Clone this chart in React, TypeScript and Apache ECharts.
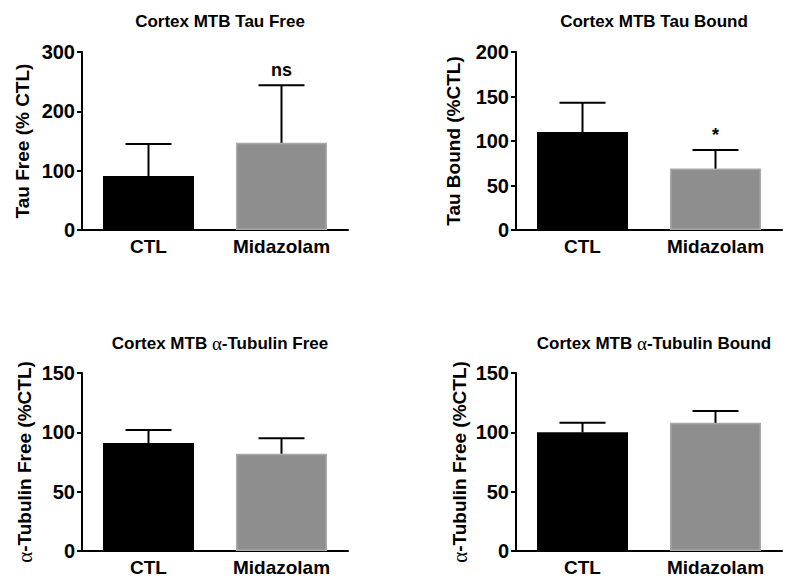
import React, { useEffect, useRef } from "react";
import * as echarts from "echarts";

const categories = ["CTL", "Midazolam"];

const tauFreeMean = [91, 147];
const tauFreeErr = [54, 97];
const tauFreeNote = ["", "ns"];

const tauBoundMean = [110, 69];
const tauBoundErr = [33, 21];
const tauBoundNote = ["", "*"];

const tubFreeMean = [91, 82];
const tubFreeErr = [11, 13];
const tubFreeNote = ["", ""];

const tubBoundMean = [100, 108];
const tubBoundErr = [8, 10];
const tubBoundNote = ["", ""];

const titles = [
  "Cortex MTB Tau Free",
  "Cortex MTB Tau Bound",
  "Cortex MTB {a|α}-Tubulin Free",
  "Cortex MTB {a|α}-Tubulin Bound",
];
const yNames = [
  "Tau Free (% CTL)",
  "Tau Bound (%CTL)",
  "{a|α}-Tubulin Free (%CTL)",
  "{a|α}-Tubulin Free (%CTL)",
];
const yMax = [300, 200, 150, 150];
const yInterval = [100, 50, 50, 50];

const FONT = "'Liberation Sans', Arial, sans-serif";

export default function App() {
  const ref = useRef<HTMLDivElement>(null);
  useEffect(() => {
    if (!ref.current) return;
    const chart = echarts.init(ref.current, undefined, { renderer: "svg" });

    const means = [tauFreeMean, tauBoundMean, tubFreeMean, tubBoundMean];
    const errs = [tauFreeErr, tauBoundErr, tubFreeErr, tubBoundErr];
    const notes = [tauFreeNote, tauBoundNote, tubFreeNote, tubBoundNote];
    const grids = [
      { left: 82, top: 52, width: 266, height: 178 },
      { left: 516, top: 52, width: 266, height: 178 },
      { left: 82, top: 373, width: 266, height: 178 },
      { left: 516, top: 373, width: 266, height: 178 },
    ];
    const nameGaps = [50, 53, 47, 46];
    const titleTops = [8, 8, 329, 329];

    const alphaRich = {
      a: { fontFamily: "'Liberation Serif', 'DejaVu Serif', serif", fontWeight: "normal" as const },
    };

    const option: any = {
      animation: false,
      backgroundColor: "#ffffff",
      title: grids.map((g, i) => ({
        text: titles[i],
        left: g.left + g.width / 2,
        top: titleTops[i],
        textAlign: "center",
        textStyle: {
          fontFamily: FONT,
          fontWeight: "bold",
          fontSize: 17,
          color: "#000",
          rich: { a: { ...alphaRich.a, fontSize: 19, color: "#000" } },
        },
      })),
      grid: grids.map((g) => ({ ...g, containLabel: false })),
      xAxis: grids.map((_, i) => ({
        type: "category",
        gridIndex: i,
        data: categories,
        axisLine: { lineStyle: { color: "#000", width: 2 } },
        axisTick: { alignWithLabel: true, length: 7, lineStyle: { color: "#000", width: 2 } },
        axisLabel: { color: "#000", fontFamily: FONT, fontWeight: "bold", fontSize: 19, margin: 7 },
        splitLine: { show: false },
      })),
      yAxis: grids.map((_, i) => ({
        type: "value",
        gridIndex: i,
        min: 0,
        max: yMax[i],
        interval: yInterval[i],
        name: yNames[i],
        nameLocation: "middle",
        nameGap: nameGaps[i],
        nameTextStyle: {
          color: "#000",
          fontFamily: FONT,
          fontWeight: "bold",
          fontSize: 19,
          rich: { a: { ...alphaRich.a, fontSize: 21, color: "#000" } },
        },
        axisLine: { show: true, lineStyle: { color: "#000", width: 2 } },
        axisTick: { show: true, length: 5, lineStyle: { color: "#000", width: 2 } },
        axisLabel: { color: "#000", fontFamily: FONT, fontWeight: "bold", fontSize: 20, margin: 7 },
        splitLine: { show: false },
      })),
      series: [] as any[],
    };

    for (let i = 0; i < 4; i++) {
      option.series.push({
        type: "bar",
        xAxisIndex: i,
        yAxisIndex: i,
        barWidth: 91,
        data: means[i].map((v, j) =>
          j === 0
            ? { value: v, itemStyle: { color: "#000000" } }
            : { value: v, itemStyle: { color: "#8e8e8e", borderColor: "#a8a8a8", borderWidth: 1.5 } }
        ),
      });
      const noteArr = notes[i];
      option.series.push({
        type: "custom",
        xAxisIndex: i,
        yAxisIndex: i,
        z: 5,
        data: means[i].map((v, j) => [j, v, errs[i][j]]),
        renderItem: (params: any, api: any) => {
          const idx = params.dataIndex;
          const x = api.value(0);
          const m = api.value(1);
          const e = api.value(2);
          const base = api.coord([x, m]);
          const top = api.coord([x, m + e]);
          const half = 23;
          const children: any[] = [
            {
              type: "line",
              shape: { x1: base[0], y1: base[1], x2: top[0], y2: top[1] },
              style: { stroke: "#000", lineWidth: 2 },
            },
            {
              type: "line",
              shape: { x1: top[0] - half, y1: top[1], x2: top[0] + half, y2: top[1] },
              style: { stroke: "#000", lineWidth: 2 },
            },
          ];
          if (noteArr[idx]) {
            children.push({
              type: "text",
              style: {
                text: noteArr[idx],
                x: top[0],
                y: top[1] - 6,
                align: "center",
                verticalAlign: "bottom",
                fontFamily: FONT,
                fontWeight: "bold",
                fontSize: 18,
                fill: "#000",
              },
            });
          }
          return { type: "group", children };
        },
      });
    }

    chart.setOption(option);
    return () => chart.dispose();
  }, []);

  return (
    <div
      ref={ref}
      style={{ position: "fixed", left: 0, top: 0, width: 800, height: 588, background: "#fff" }}
    />
  );
}
